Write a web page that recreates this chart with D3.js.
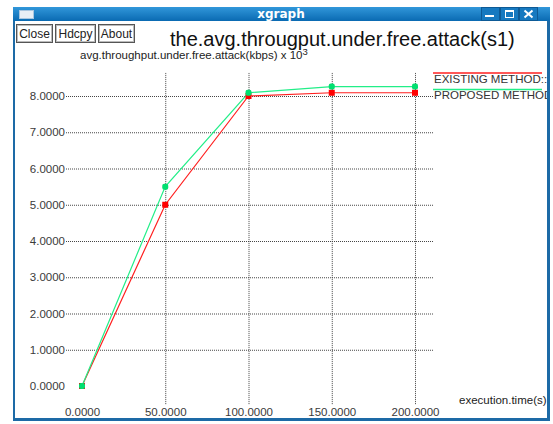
<!DOCTYPE html>
<html>
<head>
<meta charset="utf-8">
<script src="https://cdn.jsdelivr.net/npm/d3@7"></script>
<style>
  html, body { margin: 0; padding: 0; background: #ffffff; }
  svg { display: block; }
  text { font-family: "Liberation Sans", Arial, Helvetica, sans-serif; }
</style>
</head>
<body>
<script>
// Execution time (s) at which throughput was sampled
const times = [0, 50, 100, 150, 200];
// Average throughput under free attack, kbps x 10^3
const existingMethod = [0, 5.0, 8.0, 8.09, 8.09];
const proposedMethod = [0, 5.5, 8.09, 8.26, 8.26];
const seriesNames = ["EXISTING METHOD::", "PROPOSED METHOD"];
const xTicks = [0, 50, 100, 150, 200];
const yTicks = [0, 1, 2, 3, 4, 5, 6, 7, 8];
const chartTitle = "the.avg.througput.under.free.attack(s1)";
const yTitle = "avg.throughput.under.free.attack(kbps) x 10";
const xTitle = "execution.time(s)";

const W = 553, H = 424;
const svg = d3.select("body").append("svg").attr("width", W).attr("height", H);

// ---- window frame ----
const defs = svg.append("defs");
const grad = defs.append("linearGradient").attr("id", "tbar").attr("x1", 0).attr("y1", 0).attr("x2", 0).attr("y2", 1);
grad.append("stop").attr("offset", "0%").attr("stop-color", "#3197da");
grad.append("stop").attr("offset", "100%").attr("stop-color", "#0a6ab2");
defs.append("clipPath").attr("id", "inner").append("rect")
  .attr("x", 15).attr("y", 21).attr("width", 532).attr("height", 397);

svg.append("rect").attr("x", 13).attr("y", 7).attr("width", 537).attr("height", 414).attr("fill", "#1d6aa6");
svg.append("rect").attr("x", 13).attr("y", 7).attr("width", 537).attr("height", 14).attr("fill", "url(#tbar)");
svg.append("rect").attr("x", 15).attr("y", 21).attr("width", 532).attr("height", 397).attr("fill", "#ffffff");

// window icon
svg.append("rect").attr("x", 19.5).attr("y", 10.5).attr("width", 14).attr("height", 8)
  .attr("fill", "#e8eef5").attr("stroke", "#a9c6e0");
svg.append("text").attr("x", 281).attr("y", 18).attr("text-anchor", "middle")
  .attr("fill", "#ffffff").style("font-family", "'DejaVu Sans', sans-serif")
  .style("font-weight", "bold").style("font-size", "12px").text("xgraph");

// title bar buttons
const tb = svg.append("g");
[481, 500, 519].forEach(x => {
  tb.append("rect").attr("x", x + 0.5).attr("y", 7.5).attr("width", 18).attr("height", 13)
    .attr("fill", "#1679c0").attr("stroke", "#0d5a96");
});
tb.append("rect").attr("x", 485).attr("y", 15).attr("width", 9).attr("height", 2).attr("fill", "#fff");
tb.append("rect").attr("x", 505.5).attr("y", 10.5).attr("width", 8).attr("height", 7)
  .attr("fill", "none").attr("stroke", "#fff");
tb.append("rect").attr("x", 505).attr("y", 10).attr("width", 9).attr("height", 2).attr("fill", "#fff");
tb.append("path").attr("d", "M524.5,10.5 L532.5,17.5 M532.5,10.5 L524.5,17.5")
  .attr("stroke", "#fff").attr("stroke-width", 2);

// Close / Hdcpy / About buttons
const buttons = [{ t: "Close", x: 16, w: 36 }, { t: "Hdcpy", x: 55, w: 40 }, { t: "About", x: 98, w: 36 }];
buttons.forEach(b => {
  svg.append("rect").attr("x", b.x + 0.5).attr("y", 24.5).attr("width", b.w).attr("height", 18)
    .attr("fill", "#ffffff").attr("stroke", "#555").attr("stroke-width", 1);
  svg.append("rect").attr("x", b.x + 1.5).attr("y", 25.5).attr("width", b.w - 2).attr("height", 16)
    .attr("fill", "none").attr("stroke", "#bbb").attr("stroke-width", 1);
  svg.append("text").attr("x", b.x + b.w / 2 + 0.5).attr("y", 38).attr("text-anchor", "middle")
    .attr("fill", "#222").style("font-size", "12px").text(b.t);
});

// ---- plot ----
const plot = svg.append("g").attr("clip-path", "url(#inner)");

const x = d3.scaleLinear().domain([0, 200]).range([82, 415]);
const y = d3.scaleLinear().domain([0, 8]).range([386, 96]);
const fmt = d3.format(".4f");

const gridLeft = x(-9.6), gridRight = x(211);
const gridTop = y(8.66), gridBottom = y(-0.5);

// y axis with horizontal grid
const yAxis = plot.append("g").attr("transform", `translate(${gridLeft},0)`)
  .call(d3.axisLeft(y).tickValues(yTicks).tickFormat(fmt)
    .tickSize(-(gridRight - gridLeft)).tickSizeOuter(0).tickPadding(1));
yAxis.select(".domain").remove();
yAxis.selectAll(".tick line").attr("stroke", "#444").attr("stroke-dasharray", "1,1")
  .attr("opacity", d => d === 0 ? 0 : 1);
yAxis.selectAll(".tick text").attr("fill", "#3a3a3a").style("font-size", "11.5px")
  .style("font-family", "'Liberation Sans', Arial, sans-serif");

// x axis with vertical grid
const xAxis = plot.append("g").attr("transform", `translate(0,${gridBottom})`)
  .call(d3.axisBottom(x).tickValues(xTicks).tickFormat(fmt)
    .tickSize(-(gridBottom - gridTop)).tickSizeOuter(0).tickPadding(4));
xAxis.select(".domain").remove();
xAxis.selectAll(".tick line").attr("stroke", "#444").attr("stroke-dasharray", "1,1")
  .attr("opacity", d => d === 0 ? 0 : 1);
xAxis.selectAll(".tick text").attr("fill", "#3a3a3a").style("font-size", "11.5px")
  .style("font-family", "'Liberation Sans', Arial, sans-serif");

// titles
plot.append("text").attr("x", 170).attr("y", 45.5).attr("fill", "#111")
  .style("font-size", "20px").text(chartTitle);
const yt = plot.append("text").attr("x", 80).attr("y", 59).attr("fill", "#222")
  .style("font-size", "11.5px").text(yTitle);
yt.append("tspan").attr("dy", -4).style("font-size", "9.5px").text("3");
plot.append("text").attr("x", 459).attr("y", 404).attr("fill", "#222")
  .style("font-size", "11.5px").text(xTitle);

// series
const line = d3.line().x(d => x(d[0])).y(d => y(d[1]));
const series = [
  { name: seriesNames[0], values: existingMethod, color: "#ff2020", marker: "#ff0000", r: 0 },
  { name: seriesNames[1], values: proposedMethod, color: "#22ee88", marker: "#00e070", r: 2 }
];

series.forEach(s => {
  const pts = times.map((t, i) => [t, s.values[i]]);
  plot.append("path").datum(pts).attr("d", line)
    .attr("fill", "none").attr("stroke", s.color).attr("stroke-width", 1.2);
});
// markers drawn after both lines
series.forEach(s => {
  const pts = times.map((t, i) => [t, s.values[i]]);
  plot.selectAll(null).data(pts).enter().append("rect")
    .attr("x", d => x(d[0]) - 3).attr("y", d => y(d[1]) - 3)
    .attr("width", 6).attr("height", 6).attr("rx", s.r).attr("fill", s.marker);
});

// legend
series.forEach((s, i) => {
  const ly = 73 + i * 16.5;
  plot.append("line").attr("x1", 433).attr("x2", 542).attr("y1", ly).attr("y2", ly)
    .attr("stroke", s.color).attr("stroke-width", 1.5);
  plot.append("text").attr("x", 434).attr("y", ly + 9.5).attr("fill", "#333")
    .style("font-size", "11.5px").text(s.name);
});
</script>
</body>
</html>
